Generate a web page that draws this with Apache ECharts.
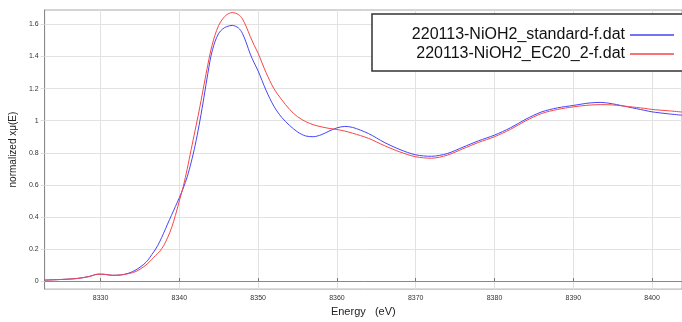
<!DOCTYPE html>
<html><head><meta charset="utf-8">
<script src="https://cdn.jsdelivr.net/npm/echarts@6/dist/echarts.min.js"></script>
<style>html,body{margin:0;padding:0;background:#fff}#c{width:682px;height:322px}</style>
</head><body><div id="c"></div>
<script>
const energy = [8322.9, 8325, 8327, 8328.5, 8329.7, 8330.5, 8331.5, 8332.5, 8333.5, 8334.5, 8335.5, 8336, 8336.5, 8337, 8337.5, 8338, 8338.5, 8339, 8339.5, 8340, 8340.5, 8341, 8341.5, 8342, 8342.5, 8343, 8343.5, 8344, 8344.5, 8345, 8345.5, 8346, 8346.7, 8347.5, 8348, 8348.5, 8349, 8349.5, 8350, 8351, 8352, 8353, 8354, 8355, 8356, 8357, 8358, 8359, 8360, 8361, 8362, 8364, 8366, 8368, 8370, 8372, 8374, 8376, 8378, 8380, 8382, 8384, 8386, 8388, 8390, 8392, 8393.5, 8395, 8397, 8399, 8400, 8402, 8403.8];
const standard = [0.006, 0.010, 0.016, 0.028, 0.043, 0.042, 0.036, 0.038, 0.048, 0.07, 0.105, 0.13, 0.165, 0.20, 0.245, 0.298, 0.355, 0.41, 0.465, 0.52, 0.58, 0.65, 0.74, 0.845, 0.97, 1.11, 1.26, 1.40, 1.49, 1.545, 1.572, 1.586, 1.594, 1.578, 1.545, 1.485, 1.415, 1.36, 1.31, 1.19, 1.09, 1.02, 0.97, 0.93, 0.905, 0.900, 0.912, 0.935, 0.955, 0.964, 0.958, 0.92, 0.865, 0.82, 0.787, 0.778, 0.795, 0.835, 0.875, 0.91, 0.955, 1.01, 1.055, 1.08, 1.095, 1.11, 1.114, 1.105, 1.085, 1.065, 1.055, 1.043, 1.034];
const ec20 = [0.006, 0.010, 0.016, 0.028, 0.043, 0.042, 0.036, 0.038, 0.046, 0.06, 0.09, 0.11, 0.135, 0.16, 0.185, 0.22, 0.27, 0.33, 0.41, 0.50, 0.59, 0.70, 0.82, 0.94, 1.06, 1.19, 1.32, 1.44, 1.53, 1.595, 1.635, 1.66, 1.674, 1.662, 1.635, 1.585, 1.525, 1.47, 1.42, 1.30, 1.20, 1.13, 1.07, 1.025, 0.995, 0.975, 0.962, 0.952, 0.945, 0.935, 0.922, 0.89, 0.845, 0.805, 0.775, 0.766, 0.785, 0.825, 0.865, 0.90, 0.945, 1.00, 1.045, 1.07, 1.086, 1.097, 1.100, 1.098, 1.088, 1.077, 1.07, 1.062, 1.054];
const xTicks = [8330, 8340, 8350, 8360, 8370, 8380, 8390, 8400];
const yTicks = [0, 0.2, 0.4, 0.6, 0.8, 1, 1.2, 1.4, 1.6];
const seriesNames = ['220113-NiOH2_standard-f.dat', '220113-NiOH2_EC20_2-f.dat'];
const seriesColors = ['#4545f8', '#f84545'];

const FF = "'Liberation Sans', Arial, sans-serif";
const chart = echarts.init(document.getElementById('c'), null, {renderer: 'canvas'});
const pairs = v => energy.map((e, i) => [e, v[i]]);
const legendBase = {
  orient: 'horizontal', align: 'right', right: 8, padding: 0,
  icon: 'rect', itemWidth: 44, itemHeight: 1.4, z: 10,
  textStyle: {fontSize: 16, fontFamily: FF, color: '#111'}
};
chart.setOption({
  animation: false,
  backgroundColor: '#fff',
  textStyle: {fontFamily: FF},
  grid: {left: 40, right: -1, top: 10, bottom: 22, show: true, borderColor: '#aaa', borderWidth: 1},
  graphic: [{type: 'rect', z: 5, shape: {x: 372, y: 14, width: 330, height: 57},
    style: {fill: '#fff', stroke: '#333', lineWidth: 1.5}}],
  legend: [
    Object.assign({}, legendBase, {top: 27, data: [seriesNames[0]]}),
    Object.assign({}, legendBase, {top: 46, data: [seriesNames[1]]})
  ],
  xAxis: {
    type: 'value', min: 8322.9, max: 8403.8,
    name: 'Energy   (eV)', nameLocation: 'middle', nameGap: 11,
    nameTextStyle: {fontSize: 11, color: '#222', fontFamily: FF},
    axisLine: {lineStyle: {color: '#888'}},
    axisTick: {customValues: xTicks, inside: true, length: 3, lineStyle: {color: '#777'}},
    axisLabel: {customValues: xTicks, fontSize: 7, margin: 5, color: '#333', fontFamily: FF,
      formatter: v => String(v)},
    splitLine: {show: true, lineStyle: {color: '#e2e2e2'}}
  },
  yAxis: {
    type: 'value', min: -0.05, max: 1.69,
    name: 'normalized xμ(E)', nameLocation: 'middle', nameGap: 20,
    nameTextStyle: {fontSize: 10, color: '#222', fontFamily: FF},
    axisLine: {show: true, lineStyle: {color: '#888'}},
    axisTick: {show: true, customValues: yTicks, inside: false, length: 4, lineStyle: {color: '#ddd'}},
    axisLabel: {customValues: yTicks, fontSize: 7, margin: 6, color: '#333', fontFamily: FF,
      formatter: v => String(v)},
    splitLine: {show: true, lineStyle: {color: '#e2e2e2'}}
  },
  series: [
    {name: seriesNames[0], type: 'line', data: pairs(standard), smooth: 0.3, symbol: 'none',
     lineStyle: {width: 1, color: seriesColors[0]}, itemStyle: {color: seriesColors[0]}},
    {name: seriesNames[1], type: 'line', data: pairs(ec20), smooth: 0.3, symbol: 'none',
     lineStyle: {width: 1, color: seriesColors[1]}, itemStyle: {color: seriesColors[1]}}
  ]
});
</script></body></html>
